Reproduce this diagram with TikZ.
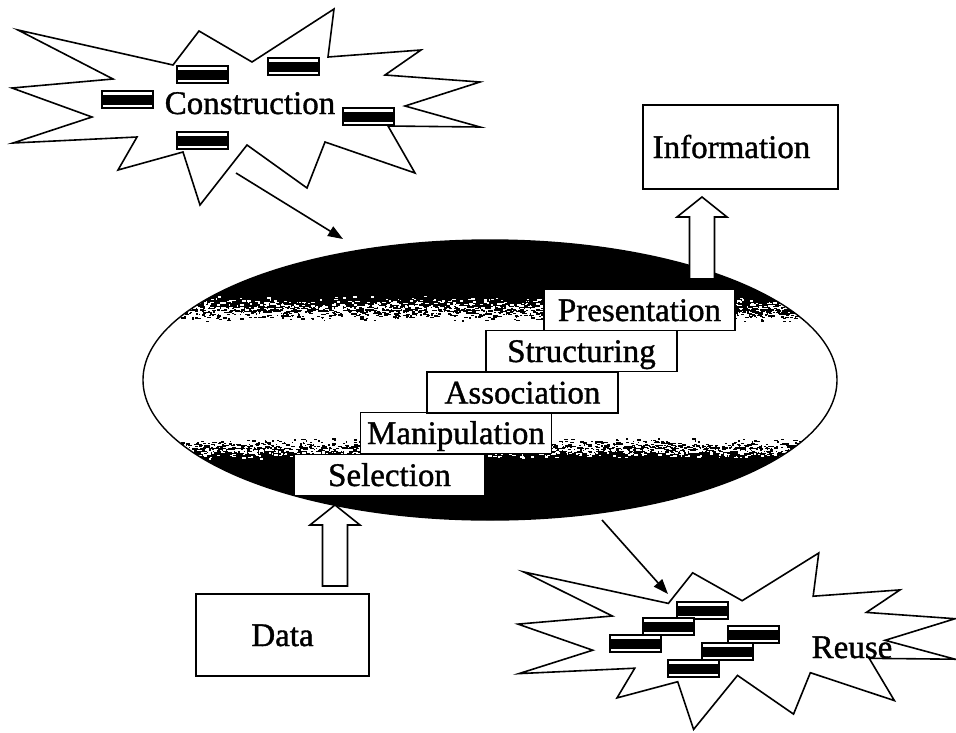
\documentclass[tikz,border=0pt]{standalone}
\usepackage{fontspec}
\setmainfont{Liberation Serif}
\newfontfamily\scanfont{Liberation Serif}[FakeBold=1.1]
\usetikzlibrary{arrows.meta,calc}

% Outline of the explosion shape, in its own local units
\newcommand\burstoutline{%
  (18,30) -- (173,65) -- (199,31) -- (252,62) -- (334,9) -- (328,57) --
  (421,50) -- (385,75) -- (480,82) -- (405,106) -- (480,127) -- (388,126) --
  (415,173) -- (325,142) -- (307,188) -- (247,145) -- (200,205) -- (183,152) --
  (118,170) -- (137,137) -- (13,143) -- (92,117) -- (12,88) -- (113,79) -- cycle}

% Hollow up-pointing block arrow between a tail and a tip coordinate
\newcommand\fatarrow[2]{%
  \draw[fatline] ($(#1)+(-12.5,0)$) -- ($(#2)+(-12.5,20)$) -- ($(#2)+(-25,20)$)
    -- (#2) -- ($(#2)+(25,20)$) -- ($(#2)+(12.5,20)$) -- ($(#1)+(12.5,0)$) -- cycle;}

% Ragged speckle along a horizontal edge: #1 colour, #2 edge y,
% #3 signed spread (towards the side the specks fall), #4 count
\newcommand\speckles[4]{%
  \foreach \k in {1,...,#4}{%
    \pgfmathsetmacro\sx{150+690*rnd}%
    \pgfmathsetmacro\sy{#2+(#3)*rnd*rnd}%
    \pgfmathsetmacro\sw{1+3.5*rnd}%
    \fill[#1] (\sx,\sy) rectangle ++(\sw,1.4);
  }}

\tikzset{
  bigtext/.style={font=\scanfont\fontsize{33}{40}\selectfont, inner sep=0pt},
  burst/.style={draw=black, line width=1.6pt, fill=white, line join=miter},
  stepbox/.style={draw=black, line width=1.6pt, fill=white,
    minimum width=191pt, minimum height=41pt, inner sep=0pt,
    text height=22pt, text depth=0pt, font=\scanfont\fontsize{33}{40}\selectfont},
  termbox/.style={draw=black, line width=1.4pt, fill=white, inner sep=0pt,
    text height=22pt, text depth=0pt, font=\scanfont\fontsize{33}{40}\selectfont},
  fatline/.style={draw=black, line width=1.6pt, fill=white, line join=miter},
  flow/.style={line width=1.6pt, -{Triangle[length=15pt,width=11pt]}},
  brick/.pic={
    \fill[white] (0,0) rectangle (51,17);
    \fill[black] (0,3.5) rectangle (51,13.5);
    \draw[line width=1.5pt] (0,0) rectangle (51,17);
  }
}

\begin{document}
\begin{tikzpicture}[x=1pt, y=-1pt]
\useasboundingbox (0,0) rectangle (956,732);

% ---- central process ellipse: dark caps, light band with ragged edges ----
\coordinate (core) at (490,380);
\begin{scope}
  \clip (core) ellipse [x radius=347, y radius=140];
  \fill[black] (130,230) rectangle (850,530);
  \fill[white] (130,309) rectangle (850,449);
  \pgfmathsetseed{4711}
  \speckles{white}{309}{-14}{900}
  \speckles{black}{309}{13}{1100}
  \speckles{black}{449}{-12}{1000}
  \speckles{white}{449}{10}{800}
\end{scope}
\draw[line width=1.4pt] (core) ellipse [x radius=347, y radius=140];

% ---- staircase of processing steps ----
\node[stepbox] (sel) at (389.5,475)   {Selection};
\node[stepbox] (man) at (456,433)     {Manipulation};
\node[stepbox] (asc) at (522.5,392.5) {Association};
\node[stepbox] (str) at (581.5,351)   {Structuring};
\node[stepbox] (pre) at (639.5,310)   {Presentation};

% ---- input and output ----
\node[termbox, minimum width=195pt, minimum height=84pt] (info) at (740.5,147)
  {\hspace*{-18pt}Information};
\node[termbox, minimum width=173pt, minimum height=82pt] (data) at (282.5,635)
  {Data};

\coordinate (dataTail) at (335,586);
\coordinate (dataTip)  at (335,505);
\fatarrow{dataTail}{dataTip}
\coordinate (infoTail) at (702,279);
\coordinate (infoTip)  at (702,197);
\fatarrow{infoTail}{infoTip}

% ---- construction burst ----
\draw[burst] \burstoutline;
\pic at (177,66)  {brick};
\pic at (268,58)  {brick};
\pic at (102,91)  {brick};
\pic at (343,108) {brick};
\pic at (177,132) {brick};
\node[bigtext, anchor=base] (build) at (250,114) {Construction};

% ---- reuse burst ----
\begin{scope}[shift={(518,553)}, xscale=0.934, yscale=0.90, shift={(-12,-9)}]
  \draw[burst] \burstoutline;
\end{scope}
\pic at (677,602) {brick};
\pic at (643,618) {brick};
\pic at (610,635) {brick};
\pic at (728,626) {brick};
\pic at (702,643) {brick};
\pic at (668,660) {brick};
\node[bigtext, anchor=base] (reuse) at (852,658) {Reuse};

% ---- thin flow arrows ----
\coordinate (buildFrom) at (236,173);
\coordinate (buildTo)   at (343,239);
\draw[flow] (buildFrom) -- (buildTo);
\coordinate (reuseFrom) at (602,520);
\coordinate (reuseTo)   at (668,594);
\draw[flow] (reuseFrom) -- (reuseTo);
\end{tikzpicture}
\end{document}
